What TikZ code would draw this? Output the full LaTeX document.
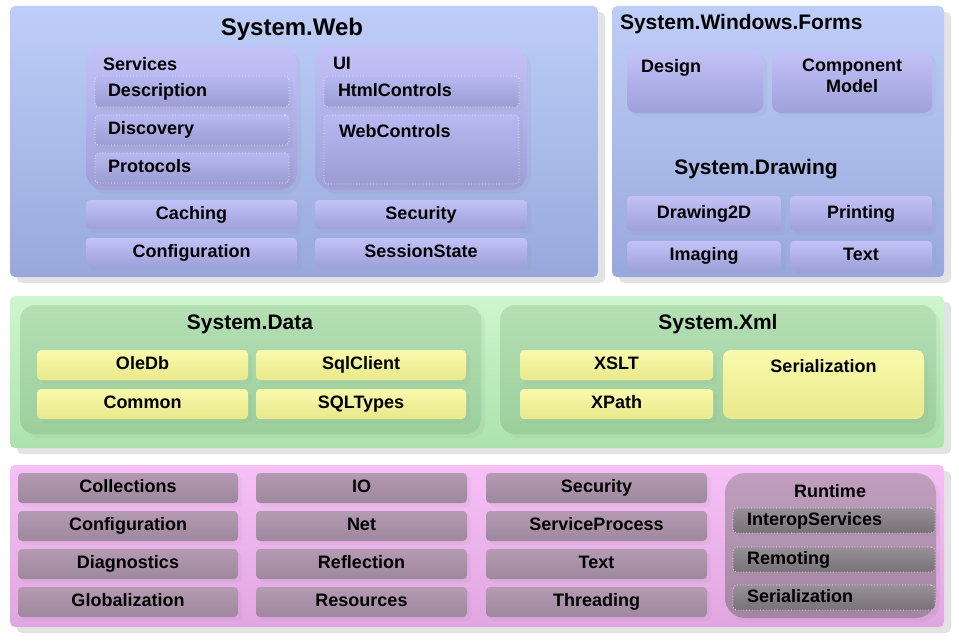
\documentclass[tikz,border=0pt]{standalone}
\usepackage{fontspec}
\setmainfont{Liberation Sans}
\usetikzlibrary{positioning, shadows}

\definecolor{webtop}{RGB}{190,206,248}
\definecolor{webbot}{RGB}{152,168,220}
\definecolor{lavtop}{RGB}{194,194,248}
\definecolor{lavbot}{RGB}{160,160,218}
\definecolor{subtop}{RGB}{184,184,242}
\definecolor{subbot}{RGB}{156,156,212}
\definecolor{grntop}{RGB}{206,246,206}
\definecolor{grnbot}{RGB}{172,226,172}
\definecolor{grptop}{RGB}{180,224,180}
\definecolor{grpbot}{RGB}{156,206,156}
\definecolor{yeltop}{RGB}{250,250,172}
\definecolor{yelbot}{RGB}{232,232,140}
\definecolor{pnktop}{RGB}{246,192,246}
\definecolor{pnkbot}{RGB}{224,166,224}
\definecolor{mautop}{RGB}{180,154,178}
\definecolor{maubot}{RGB}{158,136,158}
\definecolor{runtop}{RGB}{192,158,190}
\definecolor{runbot}{RGB}{164,134,164}
\definecolor{gratop}{RGB}{152,144,152}
\definecolor{grabot}{RGB}{118,114,118}

\begin{document}
\begin{tikzpicture}[
    x=1pt, y=-1pt,
    every node/.style={inner sep=0pt, outer sep=0pt},
    layer/.style={rounded corners=5pt, anchor=north west,
      drop shadow={shadow xshift=7pt, shadow yshift=-6pt, fill=black!11, opacity=1}},
    grp/.style={rounded corners=18pt, anchor=north west,
      drop shadow={shadow xshift=4pt, shadow yshift=-4pt, opacity=0.08}},
    pkg/.style={rounded corners=4pt, anchor=north west, minimum height=30pt,
      font=\bfseries\fontsize{18}{21}\selectfont, text height=13pt, text depth=3.5pt,
      drop shadow={shadow xshift=4pt, shadow yshift=-4pt, opacity=0.07}},
    sub/.style={pkg, draw=white!90!black, dotted, line width=0.8pt, align=left},
    ttl/.style={font=\bfseries\fontsize{21}{24}\selectfont},
    lbl/.style={font=\bfseries\fontsize{18}{21}\selectfont},
    webfill/.style={top color=webtop, bottom color=webbot},
    lavfill/.style={top color=lavtop, bottom color=lavbot},
    subfill/.style={top color=subtop, bottom color=subbot},
    grnfill/.style={top color=grntop, bottom color=grnbot},
    grpfill/.style={top color=grptop, bottom color=grpbot},
    yelfill/.style={top color=yeltop, bottom color=yelbot},
    pnkfill/.style={top color=pnktop, bottom color=pnkbot},
    maufill/.style={top color=mautop, bottom color=maubot},
    runfill/.style={top color=runtop, bottom color=runbot},
    grafill/.style={top color=gratop, bottom color=grabot},
  ]
  \useasboundingbox (0,0) rectangle (959,642);

  % System.Web
  \node[layer, webfill, minimum width=588pt, minimum height=271pt] (web) at (10,6) {};
  \node[ttl, font=\bfseries\fontsize{24}{28}\selectfont] (webttl) at (292,29) {System.Web};
  \node[grp, lavfill, minimum width=211pt, minimum height=144pt] (svc) at (86,46) {};
  \node[lbl, below right=11pt and 17pt of svc.north west] (svcttl) {Services};
  \node[sub, subfill, minimum width=194pt, minimum height=31pt, inner xsep=13pt, text width=168pt] (desc) at (95,76) {Description};
  \node[sub, subfill, minimum width=194pt, inner xsep=13pt, text width=168pt, below=8pt of desc] (disc) {Discovery};
  \node[sub, subfill, minimum width=194pt, inner xsep=13pt, text width=168pt, below=8pt of disc] (prot) {Protocols};
  \node[grp, lavfill, minimum width=212pt, minimum height=144pt, right=18pt of svc.north east, anchor=north west] (ui) {};
  \node[lbl, below right=11pt and 18pt of ui.north west] (uittl) {UI};
  \node[sub, subfill, minimum width=195pt, minimum height=31pt, inner xsep=14pt, text width=167pt] (html) at (324,76) {HtmlControls};
  \node[sub, subfill, minimum width=195pt, minimum height=69pt, below=8pt of html] (webctl) {};
  \node[lbl, below right=9pt and 15pt of webctl.north west] (webctlttl) {WebControls};
  \node[pkg, lavfill, minimum width=211pt, minimum height=29pt, below=10pt of svc.south west, anchor=north west] (cache) {Caching};
  \node[pkg, lavfill, minimum width=211pt, minimum height=29pt, below=9pt of cache] (webcfg) {Configuration};
  \node[pkg, lavfill, minimum width=212pt, minimum height=29pt, below=10pt of ui.south west, anchor=north west] (websec) {Security};
  \node[pkg, lavfill, minimum width=212pt, minimum height=29pt, below=9pt of websec] (sess) {SessionState};

  % System.Windows.Forms and System.Drawing
  \node[layer, webfill, minimum width=332pt, minimum height=271pt] (forms) at (612,6) {};
  \node[ttl, anchor=west] (formsttl) at (620,24) {System.Windows.Forms};
  \node[pkg, lavfill, minimum width=136pt, minimum height=62pt, rounded corners=9pt] (design) at (627,51) {};
  \node[lbl, below right=8pt and 14pt of design.north west] (designttl) {Design};
  \node[pkg, lavfill, minimum width=160pt, minimum height=62pt, rounded corners=9pt, right=9pt of design.north east, anchor=north west] (cmpm) {};
  \node[lbl, align=center, below=8pt of cmpm.north] (cmpmttl) {Component\\Model};
  \node[ttl] (drawttl) at (756,169) {System.Drawing};
  \node[pkg, lavfill, minimum width=154pt, minimum height=35pt] (d2d) at (627,196) {Drawing2D};
  \node[pkg, lavfill, minimum width=142pt, minimum height=35pt, right=9pt of d2d] (print) {Printing};
  \node[pkg, lavfill, minimum width=154pt, minimum height=29pt, below=10pt of d2d] (imag) {Imaging};
  \node[pkg, lavfill, minimum width=142pt, minimum height=29pt, right=9pt of imag] (drtext) {Text};

  % System.Data and System.Xml
  \node[layer, grnfill, minimum width=934pt, minimum height=152pt] (green) at (10,296) {};
  \node[grp, grpfill, minimum width=461pt, minimum height=129pt, rounded corners=15pt] (data) at (20,305) {};
  \node[ttl] (datattl) at (250,324) {System.Data};
  \node[pkg, yelfill, minimum width=211pt] (oledb) at (37,350) {OleDb};
  \node[pkg, yelfill, minimum width=210pt, right=8pt of oledb] (sqlc) {SqlClient};
  \node[pkg, yelfill, minimum width=211pt, below=9pt of oledb] (common) {Common};
  \node[pkg, yelfill, minimum width=210pt, right=8pt of common] (sqlt) {SQLTypes};
  \node[grp, grpfill, minimum width=436pt, minimum height=129pt, rounded corners=15pt, right=19pt of data] (xml) {};
  \node[ttl] (xmlttl) at (718,324) {System.Xml};
  \node[pkg, yelfill, minimum width=193pt] (xslt) at (520,350) {XSLT};
  \node[pkg, yelfill, minimum width=193pt, below=9pt of xslt] (xpath) {XPath};
  \node[pkg, yelfill, minimum width=201pt, minimum height=69pt, rounded corners=8pt, right=10pt of xslt.north east, anchor=north west] (xser) {};
  \node[lbl, below=9pt of xser.north] (xserttl) {Serialization};

  % base class library
  \node[layer, pnkfill, minimum width=934pt, minimum height=162pt] (base) at (10,465) {};
  \node[pkg, maufill, minimum width=220pt] (coll) at (18,473) {Collections};
  \node[pkg, maufill, minimum width=220pt, below=8pt of coll] (cfg) {Configuration};
  \node[pkg, maufill, minimum width=220pt, below=8pt of cfg] (diag) {Diagnostics};
  \node[pkg, maufill, minimum width=220pt, below=8pt of diag] (glob) {Globalization};
  \node[pkg, maufill, minimum width=211pt, right=18pt of coll] (io) {IO};
  \node[pkg, maufill, minimum width=211pt, below=8pt of io] (net) {Net};
  \node[pkg, maufill, minimum width=211pt, below=8pt of net] (refl) {Reflection};
  \node[pkg, maufill, minimum width=211pt, below=8pt of refl] (res) {Resources};
  \node[pkg, maufill, minimum width=221pt, right=19pt of io] (sec) {Security};
  \node[pkg, maufill, minimum width=221pt, below=8pt of sec] (svcp) {ServiceProcess};
  \node[pkg, maufill, minimum width=221pt, below=8pt of svcp] (text) {Text};
  \node[pkg, maufill, minimum width=221pt, below=8pt of text] (thrd) {Threading};
  \node[grp, runfill, minimum width=211pt, minimum height=145pt, rounded corners=20pt, right=18pt of sec.north east, anchor=north west] (rt) {};
  \node[lbl] (rtttl) at (830,491) {Runtime};
  \node[sub, grafill, minimum width=202pt, minimum height=25pt, inner xsep=14pt, text width=174pt] (interop) at (733,508) {InteropServices};
  \node[sub, grafill, minimum width=202pt, minimum height=25pt, inner xsep=14pt, text width=174pt, below=14pt of interop] (remot) {Remoting};
  \node[sub, grafill, minimum width=202pt, minimum height=25pt, inner xsep=14pt, text width=174pt, below=13pt of remot] (rser) {Serialization};
\end{tikzpicture}
\end{document}
